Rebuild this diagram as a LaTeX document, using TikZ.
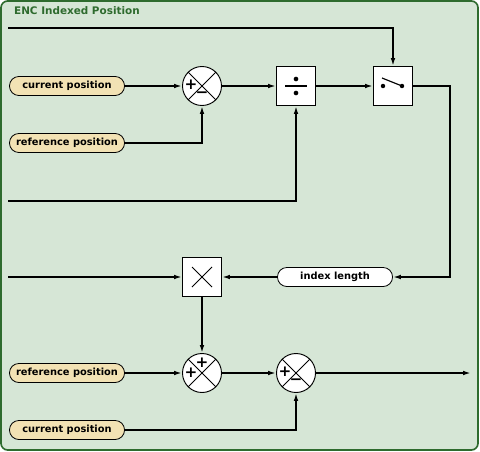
\documentclass[tikz,border=0pt]{standalone}
\usepackage{fontspec}
\setmainfont{DejaVu Sans}
\usetikzlibrary{arrows.meta,calc}
\definecolor{encgreen}{RGB}{46,107,46}
\definecolor{encbg}{RGB}{214,230,214}
\definecolor{porttan}{RGB}{242,226,180}

\begin{document}
\begin{tikzpicture}[x=0.03cm,y=-0.03cm,
port/.style={draw, rounded corners=0.28cm, fill=porttan, minimum width=3.45cm,
minimum height=0.57cm, inner sep=0pt, line width=0.7pt, font=\fontsize{8.4}{9}\selectfont\bfseries},
sumc/.style={draw, circle, fill=white, minimum size=1.17cm, inner sep=0pt, line width=0.8pt},
blk/.style={draw, fill=white, minimum size=1.17cm, inner sep=0pt, line width=0.8pt},
sgn/.style={font=\fontsize{13}{13}\selectfont\bfseries, inner sep=0pt},
arrow/.style={-{Latex[length=2.4mm,width=1.4mm]}, line width=1.3pt}
]

\useasboundingbox (0,0) rectangle (480,451);
\draw[encgreen, fill=encbg, line width=1.4pt, rounded corners=0.2cm] (1,1) rectangle (478,450);
\node[anchor=west, text=encgreen, font=\fontsize{8.9}{10}\selectfont\bfseries] (title) at (10,11) {ENC Indexed Position};

\node[port] (cur1) at (67,86) {current position};
\node[port] (ref1) at (67,143) {reference position};
\node[sumc] (sum1) at (202,86) {};
\node[blk] (div) at (296,86) {};
\node[blk] (sw) at (393,86) {};

\node[blk] (mul) at (202,277) {};
\node[port, fill=white] (idx) at (335,277) {index length};

\node[port] (ref2) at (67,373) {reference position};
\node[sumc] (sum2) at (202,373) {};
\node[sumc] (sum3) at (296,373) {};
\node[port] (cur2) at (67,430) {current position};

\coordinate (in1) at (8,28);
\coordinate (in2) at (8,201);
\coordinate (in3) at (8,277);
\coordinate (bend) at (450,86);
\coordinate (out) at (471,373);

% symbols
\foreach \s in {sum1,sum2,sum3}
  \draw[line width=0.7pt] (\s.north west) -- (\s.south east) (\s.north east) -- (\s.south west);
\node[sgn] (p1) at ($(sum1)+(-11,-1)$) {+};
\node[sgn] (m1) at ($(sum1)+(0,9)$) {−};
\node[sgn] (p2) at ($(sum2)+(-11,0)$) {+};
\node[sgn] (p3) at ($(sum2)+(0,-10)$) {+};
\node[sgn] (p4) at ($(sum3)+(-11,-1)$) {+};
\node[sgn] (m2) at ($(sum3)+(0,9)$) {−};

\draw[line width=1pt] ($(div)+(-11,0)$) -- ($(div)+(11,0)$);
\fill ($(div)+(0,-7)$) circle[radius=2pt] ($(div)+(0,7)$) circle[radius=2pt];

\fill ($(sw)+(-10,0)$) circle[radius=1.9pt] ($(sw)+(9,0)$) circle[radius=1.9pt];
\draw[line width=1pt] ($(sw)+(9,0)$) -- ($(sw)+(-11,-8)$);

\draw[line width=0.8pt] ($(mul)+(-10,-10)$) -- ($(mul)+(10,10)$) ($(mul)+(10,-10)$) -- ($(mul)+(-10,10)$);

% connectors
\draw[arrow] (in1) -| (sw.north);
\draw[arrow] (cur1) -- (sum1);
\draw[arrow] (ref1.east) -| (sum1.south);
\draw[arrow] (sum1) -- (div);
\draw[arrow] (in2) -| (div.south);
\draw[arrow] (div) -- (sw);
\draw[arrow] (sw.east) -- (bend) |- (idx.east);
\draw[arrow] (idx) -- (mul);
\draw[arrow] (in3) -- (mul);
\draw[arrow] (mul) -- (sum2);
\draw[arrow] (ref2) -- (sum2);
\draw[arrow] (sum2) -- (sum3);
\draw[arrow] (sum3) -- (out);
\draw[arrow] (cur2.east) -| (sum3.south);

\end{tikzpicture}
\end{document}
